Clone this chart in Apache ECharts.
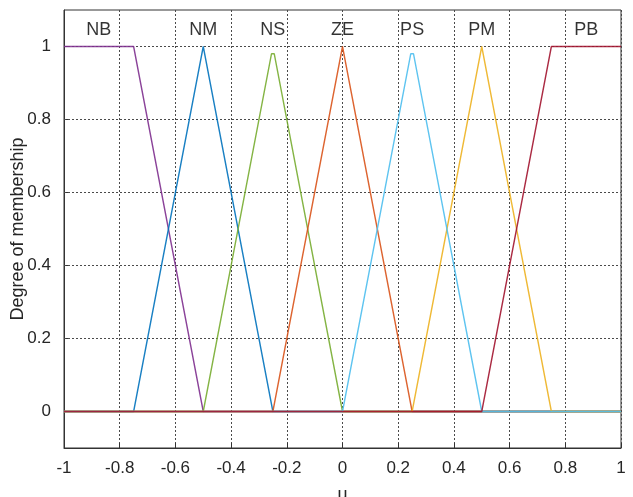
<!DOCTYPE html>
<html>
<head>
<meta charset="utf-8">
<script src="https://cdn.jsdelivr.net/npm/echarts@6/dist/echarts.min.js"></script>
<style>
  html, body { margin: 0; padding: 0; background: #fff; }
  #chart { width: 633px; height: 497px; }
</style>
</head>
<body>
<div id="chart"></div>
<script>
// Membership functions of the linguistic variable u (breakpoints and degrees)
const setNames = ['NB', 'NM', 'NS', 'ZE', 'PS', 'PM', 'PB'];
const nbX = [-1, -0.75, -0.5, 1];            const nbY = [1, 1, 0, 0];
const nmX = [-1, -0.75, -0.5, -0.25, 1];     const nmY = [0, 0, 1, 0, 0];
const nsX = [-1, -0.5, -0.255, -0.245, 0, 1]; const nsY = [0, 0, 0.98, 0.98, 0, 0];
const zeX = [-1, -0.25, 0, 0.25, 1];         const zeY = [0, 0, 1, 0, 0];
const psX = [-1, 0, 0.245, 0.255, 0.5, 1];   const psY = [0, 0, 0.98, 0.98, 0, 0];
const pmX = [-1, 0.25, 0.5, 0.75, 1];        const pmY = [0, 0, 1, 0, 0];
const pbX = [-1, 0.5, 0.75, 1];              const pbY = [0, 0, 1, 1];

// Label anchor of each set name above the curves
const nameX = [-0.875, -0.5, -0.25, 0, 0.25, 0.5, 0.875];
const nameY = [1.045, 1.045, 1.045, 1.045, 1.045, 1.045, 1.045];

// Axis ticks
const xTicks = [-1, -0.8, -0.6, -0.4, -0.2, 0, 0.2, 0.4, 0.6, 0.8, 1];
const yTicks = [0, 0.2, 0.4, 0.6, 0.8, 1];

const colors = {
  NB: '#7E2F8E', NM: '#0072BD', NS: '#77AC30', ZE: '#D95319',
  PS: '#4DBEEE', PM: '#EDB120', PB: '#A2142F'
};

const zip = (xs, ys) => xs.map((x, i) => [x, ys[i]]);
const curves = {
  NB: zip(nbX, nbY), NM: zip(nmX, nmY), NS: zip(nsX, nsY), ZE: zip(zeX, zeY),
  PS: zip(psX, psY), PM: zip(pmX, pmY), PB: zip(pbX, pbY)
};

const FONT = '"Liberation Sans", Arial, sans-serif';
const TXT = '#262626';
const gridStyle = { color: '#4a4a4a', width: 1, type: [2, 2] };

// Drawing order decides which colour ends up on top along the zero level
const drawOrder = ['NB', 'NM', 'NS', 'ZE', 'PM', 'PS', 'PB'];

const series = drawOrder.map((n, idx) => {
  const s = {
    name: n,
    type: 'line',
    data: curves[n],
    symbol: 'none',
    silent: true,
    z: 3 + idx,
    lineStyle: { color: colors[n], width: 1.4, opacity: 0.9 },
    emphasis: { disabled: true }
  };
  if (idx === 0) {
    // horizontal grid lines (the zero level is covered by the curves)
    s.markLine = {
      silent: true,
      symbol: 'none',
      label: { show: false },
      lineStyle: gridStyle,
      z: 1,
      animation: false,
      data: yTicks.filter(v => v !== 0).map(v => ({ yAxis: v }))
    };
  }
  return s;
});

series.push({
  type: 'scatter',
  silent: true,
  symbolSize: 0,
  data: setNames.map((n, i) => ({ value: [nameX[i], nameY[i]], name: n })),
  label: {
    show: true,
    position: 'inside',
    formatter: p => p.name,
    fontFamily: FONT,
    fontSize: 18,
    color: '#000'
  },
  z: 10
});

const chart = echarts.init(document.getElementById('chart'), null, { renderer: 'canvas' });
chart.setOption({
  animation: false,
  backgroundColor: '#fff',
  grid: {
    left: 64, right: 12, top: 10, bottom: 49,
    outerBoundsMode: 'none',
    containLabel: false,
    show: true, borderColor: '#333', borderWidth: 1
  },
  xAxis: {
    type: 'value',
    min: -1, max: 1, interval: 0.2,
    name: 'u',
    nameLocation: 'middle',
    nameGap: 38,
    nameMoveOverlap: false,
    nameTextStyle: { fontFamily: FONT, fontSize: 18, color: TXT },
    axisLine: { show: true, onZero: false, lineStyle: { color: '#333', width: 1 } },
    axisTick: { show: true, inside: true, length: 5, lineStyle: { color: '#333' } },
    axisLabel: {
      fontFamily: FONT, fontSize: 17, color: TXT, margin: 12,
      formatter: v => {
        const r = Math.round(v * 10) / 10;
        return r === 0 ? '0' : String(r);
      }
    },
    splitLine: { show: true, lineStyle: gridStyle }
  },
  yAxis: {
    type: 'value',
    min: -0.1, max: 1.1,
    name: 'Degree of membership',
    nameLocation: 'middle',
    nameGap: 37,
    nameMoveOverlap: false,
    nameTextStyle: { fontFamily: FONT, fontSize: 18, color: TXT },
    axisLine: { show: true, onZero: false, lineStyle: { color: '#333', width: 1 } },
    axisTick: { show: true, inside: true, length: 5, customValues: yTicks, lineStyle: { color: '#333' } },
    axisLabel: {
      fontFamily: FONT, fontSize: 17, color: TXT, margin: 13,
      customValues: yTicks,
      formatter: v => String(Math.round(v * 10) / 10)
    },
    splitLine: { show: false }
  },
  series: series
});
</script>
</body>
</html>
